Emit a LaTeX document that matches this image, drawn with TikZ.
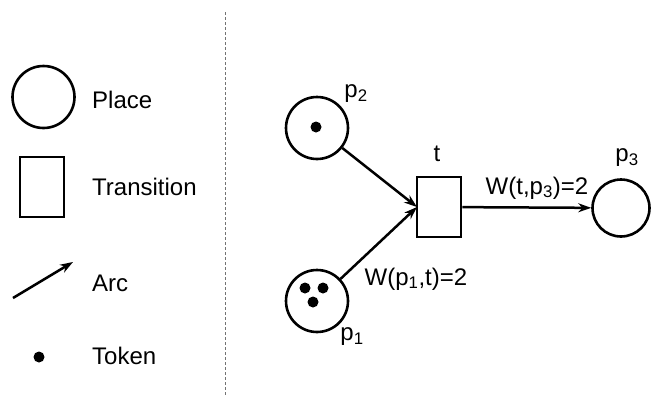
\documentclass[tikz,border=0pt]{standalone}
\usepackage{fontspec}
\setmainfont{Liberation Sans}
\usetikzlibrary{arrows.meta}
\begin{document}
\begin{tikzpicture}[x=1pt,y=-1pt,
  place/.style={draw,circle,line width=2.6pt,minimum size=#1,inner sep=0pt},
  place/.default=60pt,
  trans/.style={draw,rectangle,line width=2.6pt,minimum width=44pt,minimum height=60pt,inner sep=0pt},
  tok/.style={fill,circle,minimum size=11pt,inner sep=0pt},
  lbl/.style={font=\fontsize{24}{27}\selectfont,inner sep=0pt},
  arc/.style={line width=2.5pt,-{Stealth[length=13pt,width=9pt]}}
]
\useasboundingbox (0,0) rectangle (653,397);
% legend
\node[place=62pt] (lp) at (43.5,97) {};
\node[lbl,anchor=west] (lpt) at (92,100) {Place};
\node[trans] (lt) at (42,187) {};
\node[lbl,anchor=west] (ltt) at (92,187) {Transition};
\coordinate (la1) at (13,298);
\coordinate (la2) at (73,262);
\draw[arc] (la1) -- (la2);
\node[lbl,anchor=west] (lat) at (92,283) {Arc};
\node[tok] (ltk) at (39,357) {};
\node[lbl,anchor=west] (ltkt) at (92,356) {Token};
% separator
\coordinate (s1) at (225,12);
\coordinate (s2) at (225,395);
\draw[black!55,line width=1pt,dash pattern=on 3pt off 2pt] (s1) -- (s2);
% net
\node[place=62pt] (p2) at (317,128) {};
\node[tok] at (316,127) {};
\node[lbl] (p2l) at (356,94) {p\textsubscript{2}};
\node[place=62pt] (p1) at (317,301) {};
\node[tok] at (305,288) {};
\node[tok] at (323,288) {};
\node[tok] at (313,302) {};
\node[lbl] (p1l) at (352,337) {p\textsubscript{1}};
\node[trans] (t) at (439,207) {};
\node[lbl] (tl) at (437,154) {t};
\node[place=57pt] (p3) at (621,208) {};
\node[lbl] (p3l) at (627,158) {p\textsubscript{3}};
\coordinate (tin) at (417,207);
\draw[arc] (p2) -- (tin);
\draw[arc] (p1) -- (tin);
\draw[arc] (t) -- (p3);
\node[lbl] (w1) at (416,279) {W(p\textsubscript{1},t)=2};
\node[lbl] (w2) at (537,188) {W(t,p\textsubscript{3})=2};
\end{tikzpicture}
\end{document}
